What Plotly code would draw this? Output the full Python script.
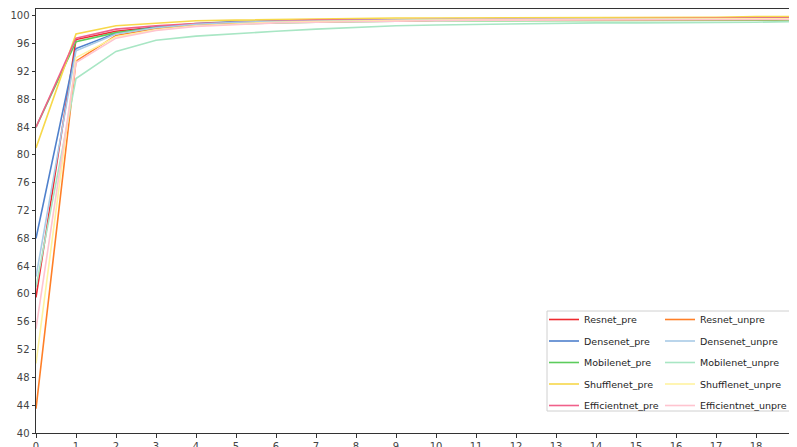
import plotly.graph_objects as go

epochs = list(range(20))

names = ["Resnet_pre", "Densenet_pre", "Mobilenet_pre", "Shufflenet_pre", "Efficientnet_pre",
         "Resnet_unpre", "Densenet_unpre", "Mobilenet_unpre", "Shufflenet_unpre", "Efficientnet_unpre"]

resnet_pre = [59.5, 96.6, 97.8, 98.4, 98.8, 99.0, 99.1, 99.2, 99.3, 99.3, 99.4, 99.4, 99.4, 99.5, 99.5, 99.5, 99.5, 99.6, 99.6, 99.6]
densenet_pre = [68.0, 95.3, 97.5, 98.4, 98.9, 99.2, 99.3, 99.4, 99.5, 99.5, 99.5, 99.6, 99.6, 99.6, 99.6, 99.6, 99.7, 99.7, 99.7, 99.7]
mobilenet_pre = [84.0, 96.3, 97.6, 98.3, 98.7, 98.9, 99.0, 99.1, 99.2, 99.2, 99.3, 99.3, 99.3, 99.3, 99.3, 99.4, 99.4, 99.4, 99.4, 99.4]
shufflenet_pre = [81.0, 97.4, 98.6, 99.0, 99.3, 99.4, 99.5, 99.6, 99.6, 99.7, 99.7, 99.7, 99.7, 99.8, 99.8, 99.8, 99.8, 99.8, 99.9, 99.9]
efficientnet_pre = [84.0, 96.8, 98.1, 98.6, 98.9, 99.1, 99.3, 99.4, 99.4, 99.5, 99.5, 99.5, 99.6, 99.6, 99.6, 99.6, 99.6, 99.7, 99.7, 99.7]
resnet_unpre = [43.5, 93.5, 97.2, 98.2, 98.7, 99.0, 99.1, 99.2, 99.3, 99.3, 99.4, 99.4, 99.4, 99.4, 99.5, 99.5, 99.5, 99.5, 99.5, 99.5]
densenet_unpre = [62.5, 95.0, 97.4, 98.3, 98.8, 99.1, 99.2, 99.3, 99.4, 99.4, 99.5, 99.5, 99.5, 99.5, 99.6, 99.6, 99.6, 99.6, 99.6, 99.6]
mobilenet_unpre = [61.0, 91.0, 94.9, 96.5, 97.1, 97.5, 97.8, 98.1, 98.4, 98.6, 98.7, 98.8, 98.9, 98.9, 99.0, 99.0, 99.0, 99.1, 99.1, 99.2]
shufflenet_unpre = [50.0, 94.0, 97.0, 98.0, 98.6, 98.9, 99.1, 99.2, 99.3, 99.4, 99.4, 99.5, 99.5, 99.5, 99.5, 99.6, 99.6, 99.6, 99.6, 99.6]
efficientnet_unpre = [55.0, 93.3, 96.8, 97.9, 98.5, 98.8, 99.0, 99.1, 99.2, 99.3, 99.3, 99.4, 99.4, 99.4, 99.5, 99.5, 99.5, 99.5, 99.5, 99.5]

series = [resnet_pre, densenet_pre, mobilenet_pre, shufflenet_pre, efficientnet_pre,
          resnet_unpre, densenet_unpre, mobilenet_unpre, shufflenet_unpre, efficientnet_unpre]

colors = ["#ee2a2f", "#4f80cc", "#5ccc5c", "#f7d84a", "#f0608a",
          "#ff7f27", "#a9cbe6", "#a8e6c4", "#fff3a0", "#ffc4cf"]

y_ticks = list(range(40, 101, 4))

fig = go.Figure()
for i, (n, s, c) in enumerate(zip(names, series, colors)):
    fig.add_trace(go.Scatter(
        x=epochs, y=s, mode="lines", name=n,
        line=dict(color=c, width=1.6),
        legend="legend" if i < 5 else "legend2",
        legendgroup=n,
    ))

legend_common = dict(
    bgcolor="rgba(0,0,0,0)", borderwidth=0,
    font=dict(family="DejaVu Sans", size=9.5, color="#1e1e1e"),
    tracegroupgap=2.5, xanchor="left", yanchor="top",
    orientation="v", itemwidth=30,
)

# The page body adds an 8px offset; size the figure so it fits the window.
OFF = 8
W, H = 797 - OFF, 447 - OFF
P_L, P_R, P_T, P_B = 36, 796, 9, 433   # plot area in window pixels
L = P_L - OFF
R = W - (P_R - OFF)
T = P_T - OFF
B = H - (P_B - OFF)
pw, ph = P_R - P_L, P_B - P_T

def px(xp):
    return (xp - P_L) / pw

def py(yp):
    return (P_B - yp) / ph

fig.update_layout(
    width=W, height=H,
    margin=dict(l=L, r=R, t=T, b=B, autoexpand=False),
    plot_bgcolor="white", paper_bgcolor="white",
    font=dict(family="DejaVu Sans", size=10, color="#444"),
    showlegend=True,
    legend=dict(x=px(544), y=py(305), **legend_common),
    legend2=dict(x=px(660), y=py(305), **legend_common),
    shapes=[dict(
        type="rect", xref="paper", yref="paper",
        x0=px(547), x1=px(793), y0=py(411), y1=py(311),
        fillcolor="rgba(255,255,255,0.85)",
        line=dict(color="#d0d0d0", width=1), layer="above",
    )],
    xaxis=dict(
        range=[0, 19], tickmode="array", tickvals=epochs,
        ticktext=[str(e) for e in epochs], automargin=False,
        ticklabeloverflow="allow",
        showgrid=False, zeroline=False,
        showline=True, linecolor="#333", linewidth=1, mirror=True,
        ticks="outside", ticklen=3.5, tickcolor="#333",
        tickfont=dict(family="DejaVu Sans", size=10, color="#444"),
    ),
    yaxis=dict(
        range=[40, 101], tickmode="array", tickvals=y_ticks,
        ticktext=[str(v) for v in y_ticks], automargin=False,
        showgrid=False, zeroline=False,
        showline=True, linecolor="#333", linewidth=1, mirror=False,
        ticks="outside", ticklen=3.5, tickcolor="#333",
        tickfont=dict(family="DejaVu Sans", size=10, color="#444"),
    ),
)

fig.write_html("out.html")
